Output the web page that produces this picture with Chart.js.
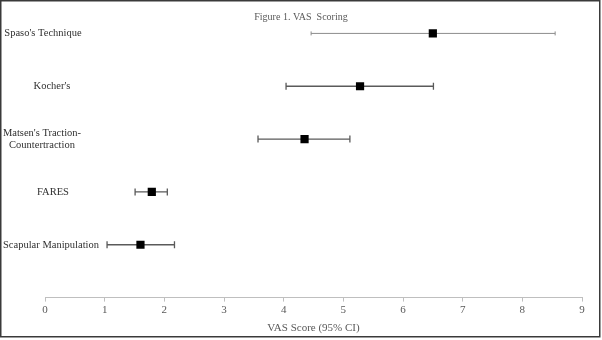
<!DOCTYPE html>
<html>
<head>
<meta charset="utf-8">
<script src="https://cdn.jsdelivr.net/npm/chart.js@4"></script>
<style>
  html, body { margin: 0; padding: 0; background: #fff; }
  #wrap { width: 602px; height: 340px; position: relative; }
</style>
</head>
<body>
<div id="wrap"><canvas id="chart" width="602" height="340"></canvas></div>
<script>
// VAS scoring, mean with 95% CI
const categories = [
  "Scapular Manipulation",
  "FARES",
  ["Matsen's Traction-", "Countertraction"],
  "Kocher's",
  "Spaso's Technique",
];
const means = [1.60, 1.79, 4.35, 5.28, 6.50];
const lower = [1.04, 1.51, 3.57, 4.04, 4.46];
const upper = [2.17, 2.05, 5.11, 6.51, 8.55];
const xTicks = [0, 1, 2, 3, 4, 5, 6, 7, 8, 9];

const serif = "'Liberation Serif', 'Times New Roman', serif";

// whiskers + caps drawn from the scales
const errorBars = {
  id: "errorBars",
  beforeDatasetsDraw(chart) {
    const { ctx, scales: { x, y } } = chart;
    ctx.save();
    means.forEach((m, i) => {
      const py = y.getPixelForValue(i + 1);
      const x1 = x.getPixelForValue(lower[i]);
      const x2 = x.getPixelForValue(upper[i]);
      const top = i === 4;
      ctx.strokeStyle = top ? "#8c8c8c" : "#5a5a5a";
      ctx.lineWidth = top ? 1 : 1.3;
      const cap = top ? 2 : 3.5;
      ctx.beginPath();
      ctx.moveTo(x1, py); ctx.lineTo(x2, py);
      ctx.moveTo(x1, py - cap); ctx.lineTo(x1, py + cap);
      ctx.moveTo(x2, py - cap); ctx.lineTo(x2, py + cap);
      ctx.stroke();
    });
    ctx.restore();
  },
};

// category labels, title and frame
const decorations = {
  id: "decorations",
  afterDraw(chart) {
    const { ctx, scales: { y } } = chart;
    ctx.save();
    ctx.fillStyle = "#303030";
    ctx.font = "10.5px " + serif;
    ctx.textAlign = "center";
    ctx.textBaseline = "middle";
    categories.forEach((c, i) => {
      const py = y.getPixelForValue(i + 1);
      if (Array.isArray(c)) {
        c.forEach((line, j) => ctx.fillText(line, 42, py + (j - (c.length - 1) / 2) * 12.5));
      } else {
        const cx = i === 0 ? 51 : i === 1 ? 53 : i === 3 ? 52 : 43;
        ctx.fillText(c, cx, py);
      }
    });
    ctx.fillStyle = "#595959";
    ctx.font = "10px " + serif;
    ctx.fillText("Figure 1. VAS  Scoring", 301, 17);
    ctx.strokeStyle = "#3a3a3a";
    ctx.lineWidth = 1.5;
    ctx.strokeRect(0.75, 0.75, 599, 336);
    ctx.restore();
  },
};

new Chart(document.getElementById("chart"), {
  type: "scatter",
  data: {
    datasets: [{
      data: means.map((m, i) => ({ x: m, y: i + 1 })),
      pointStyle: "rect",
      pointRadius: 5.8,
      pointHoverRadius: 5.8,
      backgroundColor: "#000",
      borderColor: "#000",
      borderWidth: 0,
    }],
  },
  options: {
    responsive: false,
    animation: false,
    layout: { padding: { top: 7, left: 45, right: 20, bottom: 5 } },
    plugins: { legend: { display: false }, tooltip: { enabled: false } },
    scales: {
      x: {
        type: "linear",
        min: 0,
        max: 9,
        afterBuildTicks: (s) => { s.ticks = xTicks.map((v) => ({ value: v })); },
        grid: { display: true, drawOnChartArea: false, drawTicks: true, tickLength: 4, color: "#bfbfbf" },
        border: { display: true, color: "#bfbfbf", width: 1 },
        ticks: { color: "#595959", font: { family: serif, size: 11 }, padding: 2 },
        title: { display: true, text: "VAS Score (95% CI)", color: "#595959", font: { family: serif, size: 11 }, padding: { top: 3, bottom: 0 } },
      },
      y: {
        type: "linear",
        min: 0,
        max: 5.5,
        display: false,
      },
    },
  },
  plugins: [errorBars, decorations],
});
</script>
</body>
</html>
